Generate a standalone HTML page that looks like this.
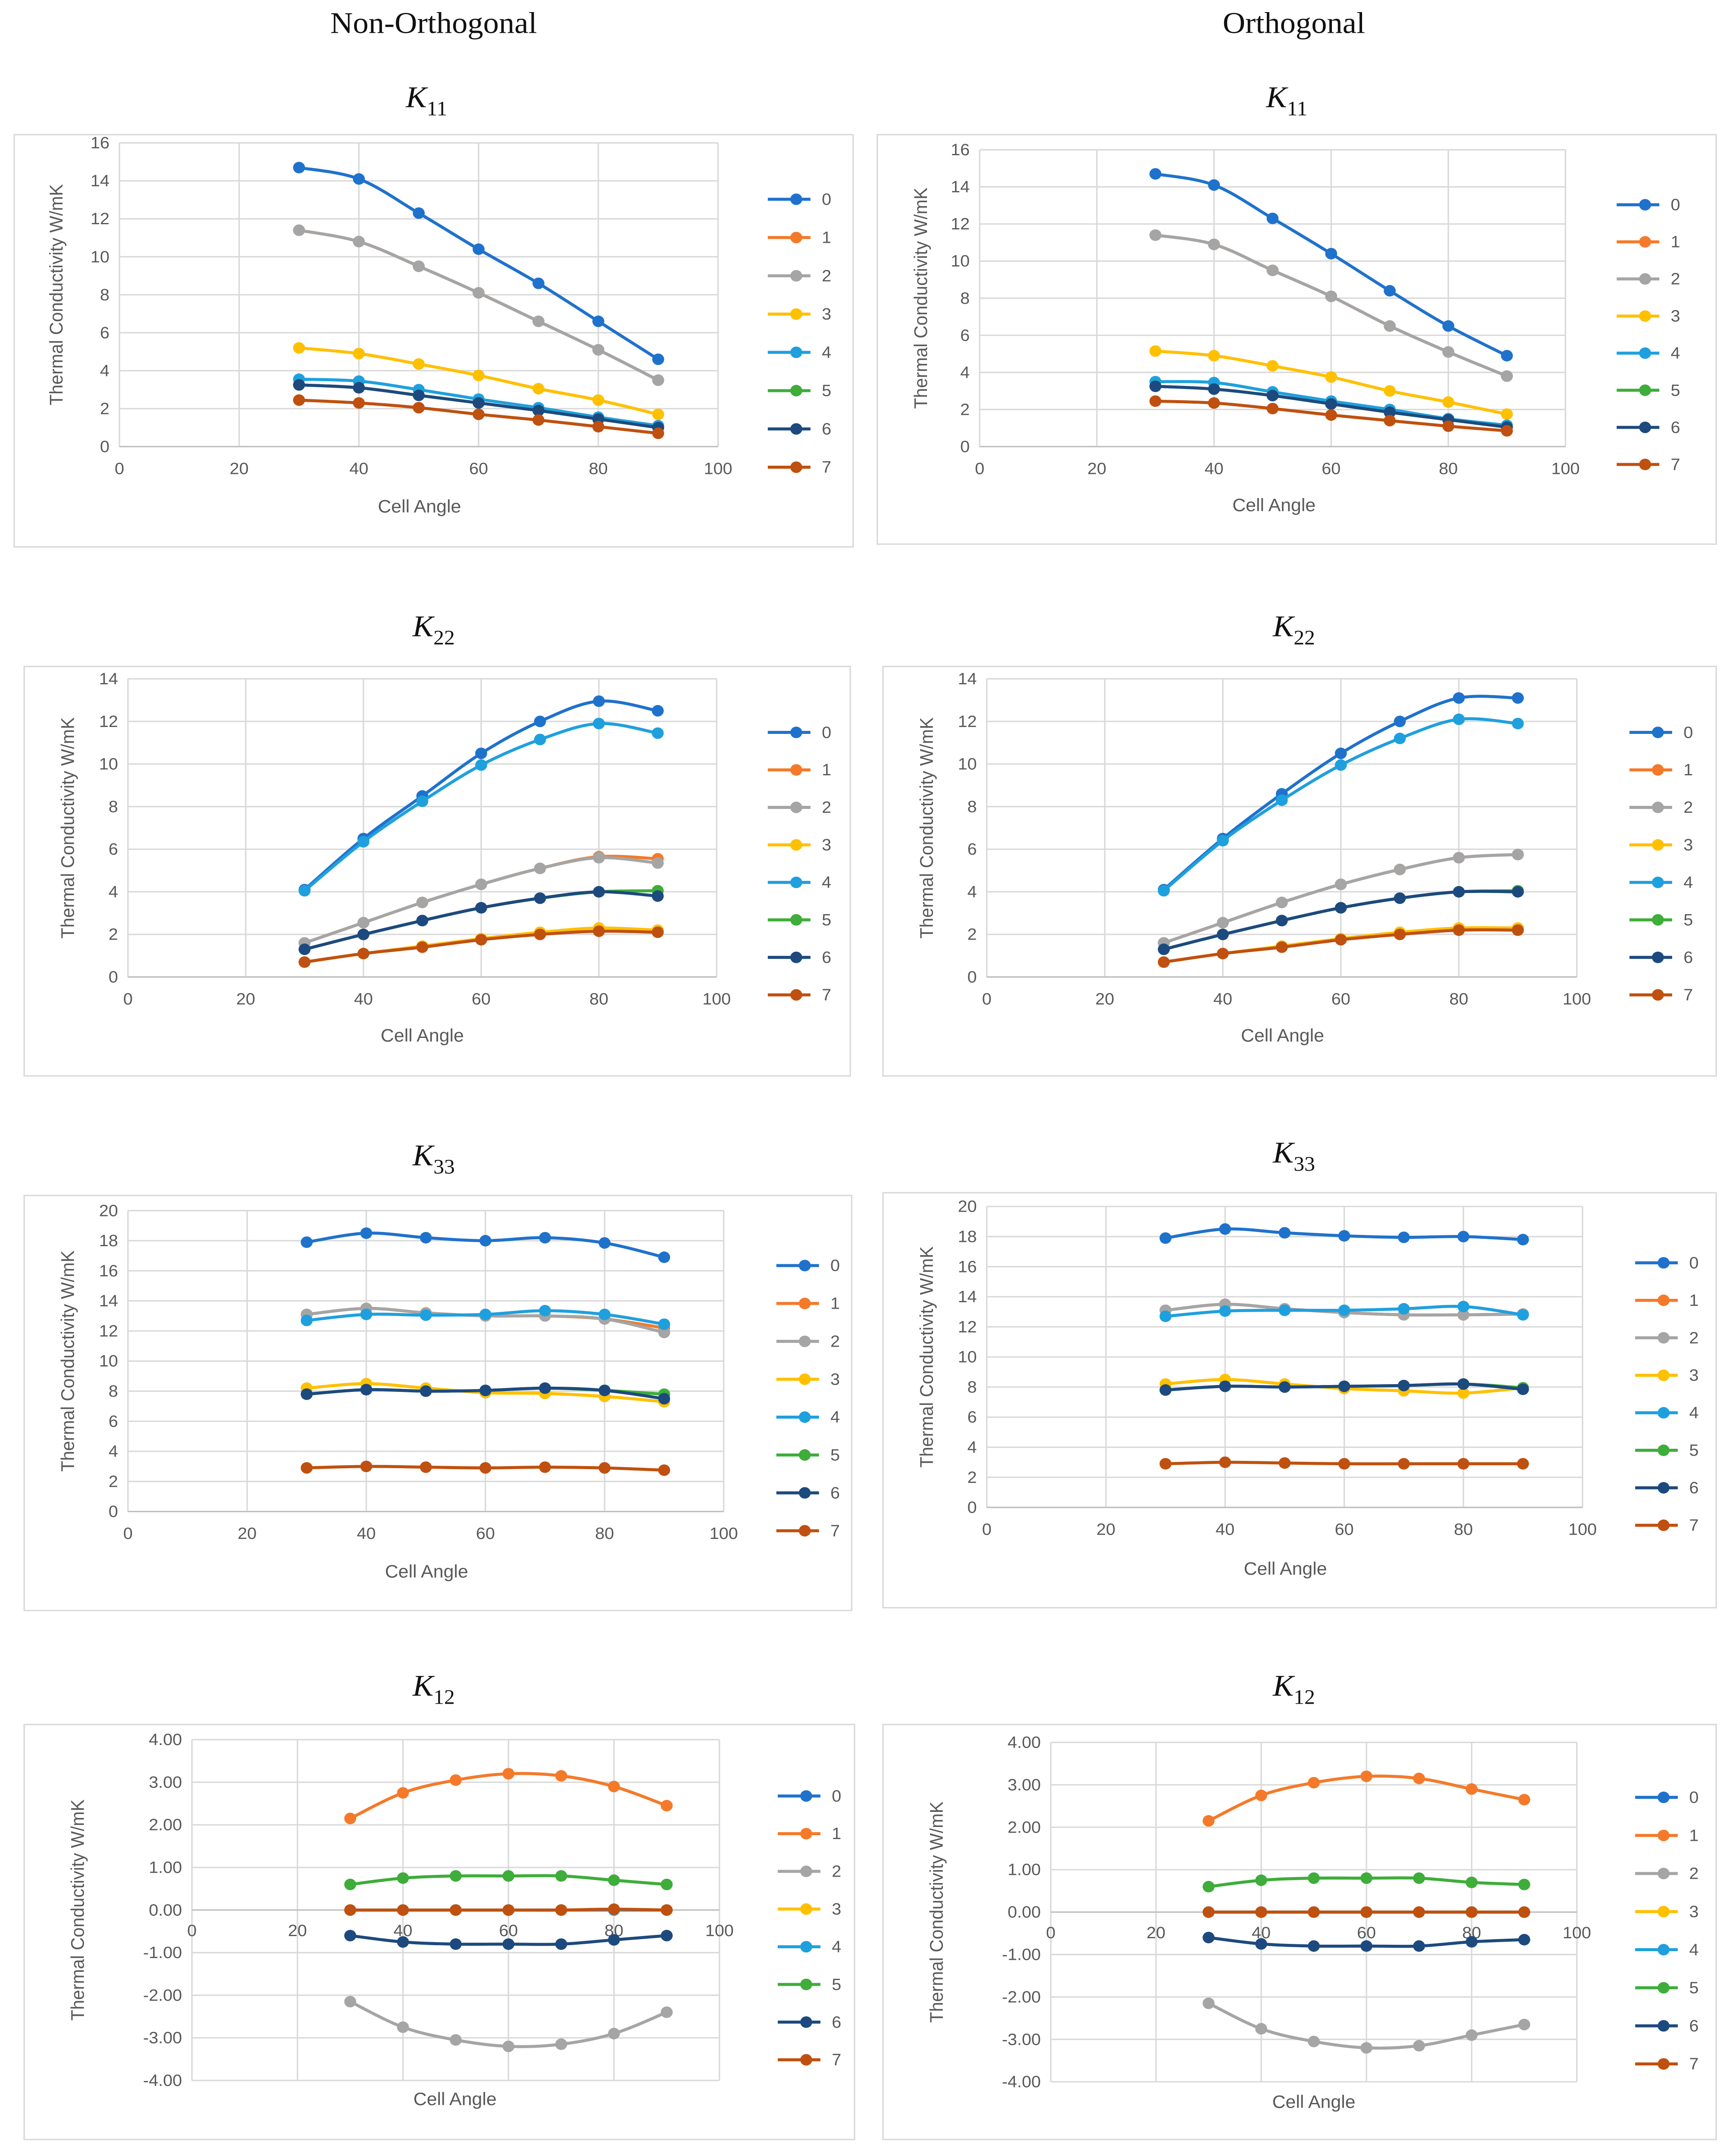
<!DOCTYPE html>
<html><head><meta charset="utf-8"><style>
html,body{margin:0;padding:0;background:#fff;width:100vw;height:100vh;overflow:hidden;}
svg{display:block;position:fixed;left:0;top:0;width:100vw;height:100vh;}
text{font-family:"Liberation Sans",Arial,sans-serif;}
</style></head><body>
<svg id="root" viewBox="0 0 1216 1569" preserveAspectRatio="none" xmlns="http://www.w3.org/2000/svg">
<rect width="1216" height="1569" fill="#fff"/>
<text x="305" y="24" font-size="22" text-anchor="middle" style="font-family:'Liberation Serif',serif" fill="#111">Non-Orthogonal</text>
<text x="910" y="24" font-size="22" text-anchor="middle" style="font-family:'Liberation Serif',serif" fill="#111">Orthogonal</text>
</svg>
<script>
const angles=[30,40,50,60,70,80,90];
const seriesNames=["0","1","2","3","4","5","6","7"];
const colors=["#1F72CC","#F47A2A","#A5A5A5","#FFC000","#1FA0DE","#3EAD3A","#1D4A7E","#C0500F"];
const k11NonOrtho=[[14.7,14.1,12.3,10.4,8.6,6.6,4.6],[11.4,10.8,9.5,8.1,6.6,5.1,3.5],[11.4,10.8,9.5,8.1,6.6,5.1,3.5],[5.2,4.9,4.35,3.75,3.05,2.45,1.7],[3.55,3.45,3.0,2.5,2.05,1.55,1.1],[3.25,3.1,2.7,2.3,1.9,1.45,1.0],[3.25,3.1,2.7,2.3,1.9,1.45,1.0],[2.45,2.3,2.05,1.7,1.4,1.05,0.7]];
const k11Ortho=[[14.7,14.1,12.3,10.4,8.4,6.5,4.9],[11.4,10.9,9.5,8.1,6.5,5.1,3.8],[11.4,10.9,9.5,8.1,6.5,5.1,3.8],[5.15,4.9,4.35,3.75,3.0,2.4,1.75],[3.5,3.45,2.95,2.45,2.0,1.5,1.15],[3.25,3.1,2.75,2.3,1.85,1.45,1.05],[3.25,3.1,2.75,2.3,1.85,1.45,1.05],[2.45,2.35,2.05,1.7,1.4,1.1,0.85]];
const k22NonOrtho=[[4.1,6.5,8.5,10.5,12.0,12.95,12.5],[1.6,2.55,3.5,4.35,5.1,5.65,5.55],[1.6,2.55,3.5,4.35,5.1,5.6,5.35],[0.7,1.1,1.45,1.8,2.1,2.3,2.2],[4.05,6.35,8.25,9.95,11.15,11.9,11.45],[1.3,2.0,2.65,3.25,3.7,4.0,4.05],[1.3,2.0,2.65,3.25,3.7,4.0,3.8],[0.7,1.1,1.4,1.75,2.0,2.15,2.1]];
const k22Ortho=[[4.1,6.5,8.6,10.5,12.0,13.1,13.1],[1.6,2.55,3.5,4.35,5.05,5.6,5.75],[1.6,2.55,3.5,4.35,5.05,5.6,5.75],[0.7,1.1,1.45,1.8,2.1,2.3,2.3],[4.05,6.4,8.3,9.95,11.2,12.1,11.9],[1.3,2.0,2.65,3.25,3.7,4.0,4.05],[1.3,2.0,2.65,3.25,3.7,4.0,4.0],[0.7,1.1,1.4,1.75,2.0,2.2,2.2]];
const k33NonOrtho=[[17.9,18.5,18.2,18.0,18.2,17.85,16.9],[13.1,13.5,13.2,13.0,13.0,12.8,12.2],[13.1,13.5,13.2,13.0,13.0,12.8,11.9],[8.2,8.5,8.2,7.9,7.85,7.65,7.3],[12.7,13.1,13.05,13.1,13.35,13.1,12.45],[7.8,8.1,8.0,8.05,8.2,8.05,7.8],[7.8,8.1,8.0,8.05,8.2,8.05,7.5],[2.9,3.0,2.95,2.9,2.95,2.9,2.75]];
const k33Ortho=[[17.9,18.5,18.25,18.05,17.95,18.0,17.8],[13.1,13.5,13.2,12.95,12.8,12.8,12.85],[13.1,13.5,13.2,12.95,12.8,12.8,12.85],[8.2,8.5,8.2,7.9,7.75,7.6,7.95],[12.7,13.05,13.1,13.1,13.2,13.35,12.8],[7.8,8.05,8.0,8.05,8.1,8.2,7.95],[7.8,8.05,8.0,8.05,8.1,8.2,7.85],[2.9,3.0,2.95,2.9,2.9,2.9,2.9]];
const k12NonOrtho=[[0,0,0,0,0,0,0],[2.15,2.75,3.05,3.2,3.15,2.9,2.45],[-2.15,-2.75,-3.05,-3.2,-3.15,-2.9,-2.4],[0,0,0,0,0,0,0],[0,0,0,0,0,0,0],[0.6,0.75,0.8,0.8,0.8,0.7,0.6],[-0.6,-0.75,-0.8,-0.8,-0.8,-0.7,-0.6],[0,0,0,0,0,0.02,0]];
const k12Ortho=[[0,0,0,0,0,0,0],[2.15,2.75,3.05,3.2,3.15,2.9,2.65],[-2.15,-2.75,-3.05,-3.2,-3.15,-2.9,-2.65],[0,0,0,0,0,0,0],[0,0,0,0,0,0,0],[0.6,0.75,0.8,0.8,0.8,0.7,0.65],[-0.6,-0.75,-0.8,-0.8,-0.8,-0.7,-0.65],[0,0,0,0,0,0,0]];
const xTicks=[0,20,40,60,80,100];

const panels=[
{id:"k11-non-orthogonal",data:k11NonOrtho,sub:"11",tx:300,ty:78,box:[10,98,600,398],x0:84,x1:505,y0:325,y1:104,ymin:0,ymax:16,step:2,dec:0,lx:540,ly0:145,ly1:340,ytx:44,xty:373,xtx:295},
{id:"k11-orthogonal",data:k11Ortho,sub:"11",tx:905,ty:78,box:[617,98,1207,396],x0:689,x1:1101,y0:325,y1:109,ymin:0,ymax:16,step:2,dec:0,lx:1137,ly0:149,ly1:338,ytx:652,xty:372,xtx:896},
{id:"k22-non-orthogonal",data:k22NonOrtho,sub:"22",tx:305,ty:463,box:[17,485,598,783],x0:90,x1:504,y0:711,y1:494,ymin:0,ymax:14,step:2,dec:0,lx:540,ly0:533,ly1:724,ytx:52,xty:758,xtx:297},
{id:"k22-orthogonal",data:k22Ortho,sub:"22",tx:910,ty:463,box:[621,485,1207,783],x0:694,x1:1109,y0:711,y1:494,ymin:0,ymax:14,step:2,dec:0,lx:1146,ly0:533,ly1:724,ytx:656,xty:758,xtx:902},
{id:"k33-non-orthogonal",data:k33NonOrtho,sub:"33",tx:305,ty:848,box:[17,870,599,1172],x0:90,x1:509,y0:1100,y1:881,ymin:0,ymax:20,step:2,dec:0,lx:546,ly0:921,ly1:1114,ytx:52,xty:1148,xtx:300},
{id:"k33-orthogonal",data:k33Ortho,sub:"33",tx:910,ty:846,box:[621,868,1207,1170],x0:694,x1:1113,y0:1097,y1:878,ymin:0,ymax:20,step:2,dec:0,lx:1150,ly0:919,ly1:1110,ytx:656,xty:1146,xtx:904},
{id:"k12-non-orthogonal",data:k12NonOrtho,sub:"12",tx:305,ty:1234,box:[17,1255,601,1557],x0:135,x1:506,y0:1514,y1:1266,ymin:-4,ymax:4,step:1,dec:2,lx:547,ly0:1307,ly1:1499,ytx:59,xty:1532,xtx:320,zero:true},
{id:"k12-orthogonal",data:k12Ortho,sub:"12",tx:910,ty:1234,box:[621,1255,1207,1557],x0:739,x1:1109,y0:1515,y1:1268,ymin:-4,ymax:4,step:1,dec:2,lx:1150,ly0:1308,ly1:1502,ytx:663,xty:1534,xtx:924,zero:true}
];
const NS="http://www.w3.org/2000/svg";
const root=document.getElementById('root');
function mk(tag,attrs,parent){const e=document.createElementNS(NS,tag);for(const k in attrs)e.setAttribute(k,attrs[k]);parent.appendChild(e);return e;}
function spline(pts){
  let d="M"+pts[0][0]+","+pts[0][1];
  for(let i=0;i<pts.length-1;i++){
    const p0=pts[Math.max(0,i-1)],p1=pts[i],p2=pts[i+1],p3=pts[Math.min(pts.length-1,i+2)];
    const t=0.5/3;
    const c1=[p1[0]+(p2[0]-p0[0])*t,p1[1]+(p2[1]-p0[1])*t];
    const c2=[p2[0]-(p3[0]-p1[0])*t,p2[1]-(p3[1]-p1[1])*t];
    d+=" C"+c1[0]+","+c1[1]+" "+c2[0]+","+c2[1]+" "+p2[0]+","+p2[1];
  }
  return d;
}
panels.forEach(p=>{
  const g=mk('g',{},root);
  
  
  const sx=v=>p.x0+(v-0)/(100-0)*(p.x1-p.x0);
  const sy=v=>p.y0+(v-p.ymin)/(p.ymax-p.ymin)*(p.y1-p.y0);
  const b=p.box;
  const frame=mk('rect',{x:b[0],y:b[1],width:b[2]-b[0],height:b[3]-b[1],fill:'#fff',stroke:'#d9d9d9','stroke-width':1},g);
  
  
  const t=mk('text',{x:p.tx,y:p.ty,'font-size':22,'text-anchor':'middle',style:"font-family:'Liberation Serif',serif;font-style:italic",fill:'#111'},g);
  
  
  t.innerHTML='K<tspan font-size="15" dy="6" style="font-style:normal">'+p.sub+'</tspan>';
  for(let v=p.ymin;v<=p.ymax+1e-9;v+=p.step){
    const y=sy(v);
    const gl=mk('line',{x1:p.x0,x2:p.x1,y1:y,y2:y,stroke:'#d9d9d9','stroke-width':1},g);
    
    
    const tl=mk('text',{x:p.x0-7,y:y+4,'font-size':12,'text-anchor':'end',fill:'#595959'},g);
    
    
    tl.textContent=v.toFixed(p.dec);
  }
  xTicks.forEach(v=>{
    const x=sx(v);
    const gl=mk('line',{x1:x,x2:x,y1:p.y1,y2:p.y0,stroke:'#d9d9d9','stroke-width':1},g);
    
    
    const ly=p.zero?sy(0)+19:p.y0+20;
    const tl=mk('text',{x:x,y:ly,'font-size':12,'text-anchor':'middle',fill:'#595959'},g);
    
    
    tl.textContent=v;
  });
  const ax=mk('line',{x1:p.x0,x2:p.x1,y1:sy(Math.max(0,p.ymin)),y2:sy(Math.max(0,p.ymin)),stroke:'#bfbfbf','stroke-width':1},g);
  
  
  const xt=mk('text',{x:p.xtx,y:p.xty,'font-size':13,'text-anchor':'middle',fill:'#595959'},g);
  
  
  xt.textContent='Cell Angle';
  const yc=(p.y0+p.y1)/2;
  const yt=mk('text',{x:p.ytx,y:yc,'font-size':13,'text-anchor':'middle',fill:'#595959',transform:'rotate(-90 '+p.ytx+' '+yc+')'},g);
  
  
  yt.textContent='Thermal Conductivity W/mK';
  p.data.forEach((vals,si)=>{
    const sg=mk('g',{},g);
    
    
    const pts=vals.map((v,i)=>[sx(angles[i]),sy(v)]);
    const ln=mk('path',{d:spline(pts),fill:'none',stroke:colors[si],'stroke-width':2.2},sg);
    
    
    pts.forEach(pt=>{
      const c=mk('circle',{cx:pt[0],cy:pt[1],r:4.2,fill:colors[si]},sg);
      
      
    });
  });
  const lg=mk('g',{},g);
  
  
  seriesNames.forEach((n,i)=>{
    const y=p.ly0+(p.ly1-p.ly0)*i/7;
    const e=mk('g',{},lg);
    
    
    mk('line',{x1:p.lx,x2:p.lx+30,y1:y,y2:y,stroke:colors[i],'stroke-width':2.2},e);
    mk('circle',{cx:p.lx+20,cy:y,r:4.2,fill:colors[i]},e);
    const lt=mk('text',{x:p.lx+38,y:y+4,'font-size':12,fill:'#595959'},e);
    lt.textContent=n;
  });
});
</script>
</body></html>
